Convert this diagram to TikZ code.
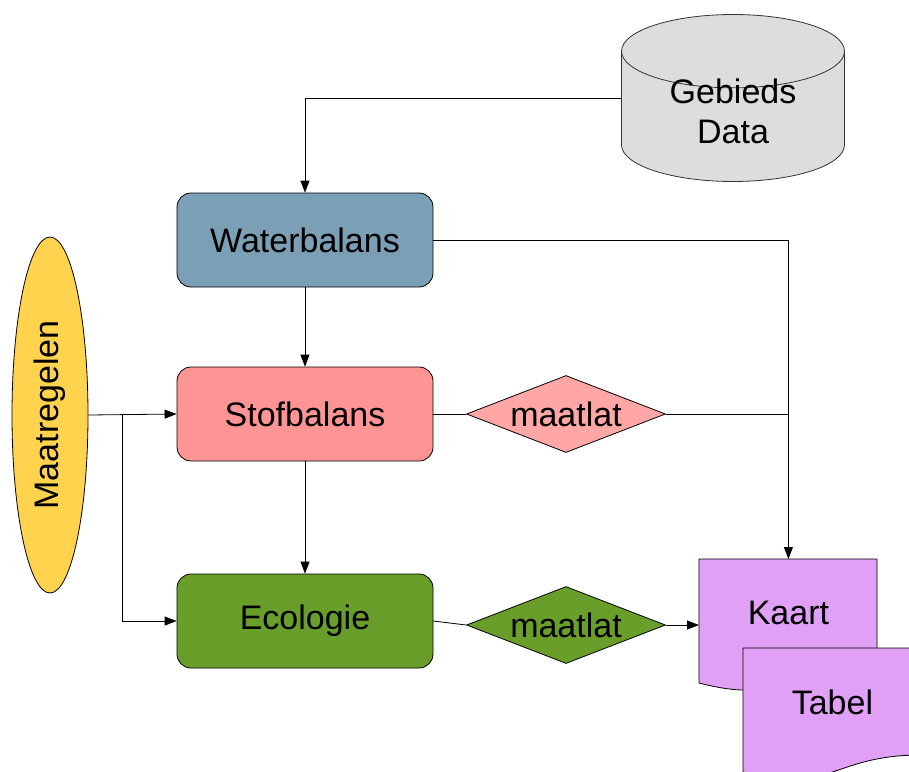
\documentclass[tikz,border=0pt]{standalone}
\usepackage{fontspec}
\setmainfont{Liberation Sans}
\usetikzlibrary{arrows.meta,shapes.geometric}

\definecolor{waterblue}{RGB}{123,160,181}
\definecolor{stofred}{RGB}{255,148,148}
\definecolor{latpink}{RGB}{255,166,166}
\definecolor{ecogreen}{RGB}{105,158,43}
\definecolor{maatyellow}{RGB}{255,211,77}
\definecolor{datagrey}{RGB}{221,221,221}
\definecolor{docpurple}{RGB}{224,160,246}

\begin{document}
\begin{tikzpicture}[x=1pt,y=-1pt,>={Triangle[length=12pt,width=9pt]},line width=0.8pt,
  font=\fontsize{34}{40}\selectfont,
  model box/.style={rectangle,rounded corners=14pt,draw,minimum width=256pt,minimum height=94pt},
  check/.style={diamond,draw,aspect=2.6,inner sep=0pt,minimum width=199pt,minimum height=77pt},
  store/.style={cylinder,shape border rotate=90,draw=black!80,fill=datagrey,aspect=0.55,
    minimum width=223pt,minimum height=167pt,align=center,text height=52pt,text depth=6pt},
  doc text/.style={anchor=north west,inner sep=0pt,minimum width=178pt,minimum height=108pt}]

  \useasboundingbox (0,0) rectangle (909,771);
  \clip (0,0) rectangle (909,771);

  \node[store,anchor=shape center] (data) at (733,98) {Gebieds\\Data};
  \node[model box,fill=waterblue] (water) at (305,240) {Waterbalans};
  \node[model box,fill=stofred]   (stof)  at (305,414) {Stofbalans};
  \node[model box,fill=ecogreen]  (eco)   at (305,621) {Ecologie};
  \node[ellipse,draw,fill=maatyellow,inner sep=0pt,minimum width=76pt,minimum height=356pt]
    (maatr) at (50,415) {\rotatebox{90}{Maatregelen}};
  \node[check,fill=latpink]  (lat1) at (566,414) {maatlat};
  \node[check,fill=ecogreen] (lat2) at (566,625) {maatlat};

  % kaart and tabel pages
  \draw[fill=docpurple,shift={(699,559)}] (0,0) -- (178,0) -- (178,107)
    .. controls (89,107) and (89,147) .. (0,124) -- cycle;
  \node[doc text] (kaart) at (699,559) {Kaart};
  \draw[fill=docpurple,shift={(743,648)}] (0,0) -- (178,0) -- (178,107)
    .. controls (89,107) and (89,147) .. (0,124) -- cycle;
  \node[doc text] (tabel) at (743,648) {Tabel};

  \coordinate (split) at (122,414);

  \draw[->] (data.shape center -| data.west) -| (water.north);
  \draw[->] (water.south) -- (stof.north);
  \draw[->] (stof.south) -- (eco.north);
  \draw[->] (maatr.east) -- (stof.west);
  \draw[->] (split) |- (eco.west);
  \draw (stof.east) -- (lat1.west);
  \draw (eco.east) -- (lat2.west);
  \draw[->] (water.east) -| (kaart.north);
  \draw (lat1.east) -- (lat1.east -| kaart.north);
  \draw[->] (lat2.east) -- (lat2.east -| kaart.west);

\end{tikzpicture}
\end{document}
